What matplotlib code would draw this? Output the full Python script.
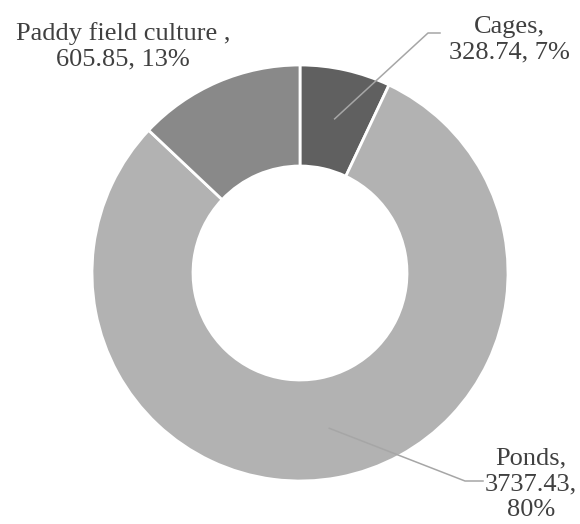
import numpy as np
import matplotlib.pyplot as plt

# data
labels = ['Cages', 'Ponds', 'Paddy field culture ']
values = [328.74, 3737.43, 605.85]
colors = ['#606060', '#b2b2b2', '#898989']

plt.rcParams['font.family'] = ['Liberation Serif', 'DejaVu Serif']

W, H = 580, 524
fig = plt.figure(figsize=(W / 100, H / 100), dpi=100)
ax = fig.add_axes([0, 0, 1, 1])

cx, cy, R, ring = 300, 251, 208, 101
wedges, _ = ax.pie(values, colors=colors, startangle=90, counterclock=False,
                   center=(cx, cy), radius=R, frame=True,
                   wedgeprops=dict(width=ring, edgecolor='white', linewidth=2))
ax.set_xlim(0, W)
ax.set_ylim(0, H)
ax.set_aspect('equal')
ax.axis('off')

total = sum(values)
pct = [round(v / total * 100) for v in values]
texts = [f'{l},\n{v:.2f}, {p}%' for l, v, p in zip(labels, values, pct)]
texts[1] = f'{labels[1]},\n{values[1]:.2f},\n{pct[1]}%'

# label positions (x, y) and leader elbows
label_pos = [(509, 484), (531, 40), (123, 478)]
elbows = [((428, 491), (440, 491)), ((465, 43), (483, 43)), None]

tc = '#404040'
for i, w in enumerate(wedges):
    ax.text(*label_pos[i], texts[i], ha='center', va='center', fontsize=19,
            color=tc, linespacing=1.22)
    if elbows[i] is None:
        continue
    ang = np.deg2rad((w.theta1 + w.theta2) / 2)
    r = 158
    sx, sy = cx + r * np.cos(ang), cy + r * np.sin(ang)
    (ex, ey), (fx, fy) = elbows[i]
    ax.plot([sx, ex, fx], [sy, ey, fy], color='#a6a6a6', lw=1.1)

fig.savefig('out.png', dpi=100)
